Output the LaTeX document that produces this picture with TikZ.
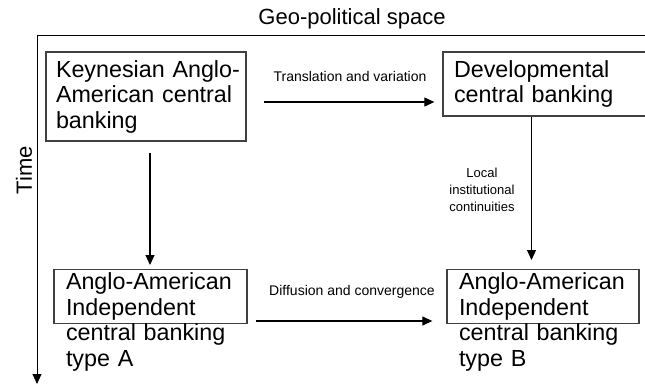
\documentclass[tikz,border=0pt]{standalone}
\usepackage{fontspec}
\setmainfont{Liberation Sans}
\usetikzlibrary{arrows.meta}

\begin{document}
\begin{tikzpicture}[x=1pt, y=-1pt,
    box/.style={draw=black!75, line width=1.3pt, align=left, inner xsep=11pt,
      font=\fontsize{23.3}{25.5}\selectfont},
    lbl/.style={font=\fontsize{14}{17}\selectfont, align=center},
    arr/.style={line width=1.1pt, -{Triangle[length=10pt, width=9pt]}}]
    \useasboundingbox (0,0) rectangle (645,385);
    \clip (0,0) rectangle (645,385);

    % axes
    \node[font=\fontsize{22}{26}\selectfont] (space) at (352,19) {Geo-political space};
    \node[font=\fontsize{22}{26}\selectfont, rotate=90] (time) at (24,170) {Time};
    \coordinate (corner) at (37,35);
    \draw[line width=0.9pt] (650,35) -- (corner);
    \draw[line width=0.9pt, -{Triangle[length=10pt, width=9pt]}] (corner) -- (37,384);

    % boxes
    \node[box, text width=180pt, inner xsep=10pt, minimum height=89pt] (keynes) at (146,96.5)
      {\mbox{Keynesian Anglo-}\\\mbox{American central}\\banking};
    \node[box, text width=190pt, minimum height=64pt] (devel) at (549,84)
      {Developmental\\central banking};
    \node[box, text width=169pt, inner xsep=12pt, text depth=30pt, anchor=north] (typeA) at (150.5,269)
      {Anglo-American\\Independent\\central banking\\type A};
    \node[box, text width=168pt, inner xsep=12pt, text depth=30pt, anchor=north] (typeB) at (543,269)
      {Anglo-American\\Independent\\central banking\\type B};

    % connectors
    \node[lbl] (trans) at (350,76) {Translation and variation};
    \draw[arr, shorten <=17pt, shorten >=8pt] (keynes.east |- 0,102) -- (devel.west |- 0,102);

    \node[lbl] (diff) at (352,292) {Diffusion and convergence};
    \draw[arr, shorten <=8pt, shorten >=14pt] (typeA.east |- 0,321) -- (typeB.west |- 0,321);

    \draw[arr, shorten <=11pt, shorten >=4pt] (keynes.south -| 150,0) -- (typeA.north -| 150,0);

    \node[lbl, font=\fontsize{13}{17}\selectfont] (local) at (482,190) {Local\\institutional\\continuities};
    \draw[arr, shorten >=9pt] (devel.south -| 531.5,0) -- (typeB.north -| 531.5,0);
\end{tikzpicture}
\end{document}
